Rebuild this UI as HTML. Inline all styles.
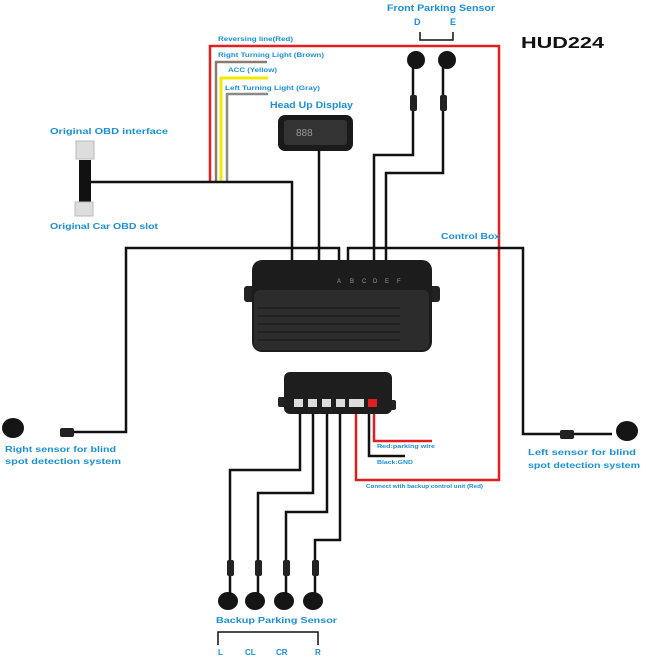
<!DOCTYPE html>
<html><head><meta charset="utf-8"><style>
html,body{margin:0;padding:0;background:#fff}
svg text{font-family:"Liberation Sans",sans-serif;font-weight:bold;fill:#1a8fd8}
svg text.g{fill:#999;font-weight:normal}
svg text.k{fill:#111}
</style></head><body>
<svg width="646" height="663" viewBox="0 0 646 663" xmlns="http://www.w3.org/2000/svg">
<polyline points="210,183 210,46 499,46 499,480 356,480 356,403" fill="none" stroke="#e02020" stroke-width="2.5"/>
<polyline points="216,183 216,62 267,62" fill="none" stroke="#8a7a70" stroke-width="2.5"/>
<polyline points="221,183 221,78 268,78" fill="none" stroke="#f5e800" stroke-width="3"/>
<polyline points="227,183 227,94 268,94" fill="none" stroke="#8a8a8a" stroke-width="2.5"/>
<g fill="none" stroke="#111" stroke-width="2.5">
<polyline points="88,182 292,182 292,262"/>
<line x1="319" y1="150" x2="319" y2="262"/>
<polyline points="413,62 413,155 374,155 374,262"/>
<polyline points="443,62 443,173 386,173 386,262"/>
<polyline points="339,262 339,248 126,248 126,432 60,432"/>
<polyline points="348,262 348,248 523,248 523,434 612,434"/>
<polyline points="300,410 300,470 230,470 230,595"/>
<polyline points="313,410 313,493 258,493 258,595"/>
<polyline points="327,410 327,512 286,512 286,595"/>
<polyline points="340,410 340,540 315,540 315,595"/>
<polyline points="369,410 369,456 405,456"/>
<polyline points="420,32 420,40 453,40 453,32" stroke-width="1.5"/>
<polyline points="218,645 218,632 318,632 318,645" stroke-width="1.5"/>
</g>
<polyline points="374,405 374,441 432,441" fill="none" stroke="#e02020" stroke-width="2.5"/>
<g fill="#222">
<rect x="410" y="95" width="7" height="16" rx="2"/><rect x="440" y="95" width="7" height="16" rx="2"/>
<rect x="60" y="428" width="14" height="9" rx="2"/><rect x="560" y="430" width="14" height="9" rx="2"/>
<rect x="227" y="560" width="7" height="16" rx="2"/><rect x="255" y="560" width="7" height="16" rx="2"/>
<rect x="283" y="560" width="7" height="16" rx="2"/><rect x="312" y="560" width="7" height="16" rx="2"/>
</g>
<g fill="#151515">
<ellipse cx="416" cy="60" rx="9" ry="9"/><ellipse cx="447" cy="60" rx="9" ry="9"/>
<ellipse cx="13" cy="428" rx="11" ry="10"/><ellipse cx="627" cy="431" rx="11" ry="10"/>
<ellipse cx="228" cy="601" rx="10" ry="9"/><ellipse cx="255" cy="601" rx="10" ry="9"/>
<ellipse cx="284" cy="601" rx="10" ry="9"/><ellipse cx="313" cy="601" rx="10" ry="9"/>
</g>
<rect x="76" y="141" width="18" height="18" fill="#ddd" stroke="#bbb"/>
<rect x="79" y="160" width="12" height="42" fill="#111"/>
<rect x="75" y="202" width="18" height="14" fill="#ddd" stroke="#bbb"/>
<rect x="278" y="115" width="75" height="36" rx="7" fill="#1a1a1a"/>
<rect x="284" y="120" width="63" height="25" rx="3" fill="#333"/>
<text x="296" y="136" class="g" font-size="10">888</text>
<rect x="244" y="286" width="12" height="16" rx="3" fill="#222"/>
<rect x="428" y="286" width="12" height="16" rx="3" fill="#222"/>
<rect x="252" y="260" width="180" height="92" rx="10" fill="#1c1c1c"/>
<rect x="254" y="290" width="175" height="60" rx="6" fill="#2c2c2c"/>
<g stroke="#161616" stroke-width="1">
<line x1="258" y1="308" x2="400" y2="308"/><line x1="258" y1="316" x2="400" y2="316"/>
<line x1="258" y1="324" x2="400" y2="324"/><line x1="258" y1="332" x2="400" y2="332"/><line x1="258" y1="340" x2="400" y2="340"/>
</g>
<g font-size="6"><text class="g" x="337" y="283">A</text><text class="g" x="350" y="283">B</text><text class="g" x="362" y="283">C</text><text class="g" x="373" y="283">D</text><text class="g" x="385" y="283">E</text><text class="g" x="397" y="283">F</text></g>
<rect x="278" y="397" width="10" height="10" rx="2" fill="#222"/><rect x="386" y="400" width="10" height="10" rx="2" fill="#222"/>
<rect x="284" y="372" width="108" height="42" rx="6" fill="#1e1e1e"/>
<g fill="#ddd"><rect x="294" y="399" width="9" height="8"/><rect x="308" y="399" width="9" height="8"/><rect x="322" y="399" width="9" height="8"/><rect x="336" y="399" width="9" height="8"/><rect x="349" y="399" width="15" height="8"/></g>
<rect x="368" y="399" width="9" height="8" fill="#e02020"/>
<text x="387" y="11" font-size="9" textLength="108" lengthAdjust="spacingAndGlyphs">Front Parking Sensor</text>
<text x="414" y="25" font-size="9">D</text><text x="450" y="25" font-size="9">E</text>
<text x="521" y="48" font-size="16" class="k" textLength="83" lengthAdjust="spacingAndGlyphs">HUD224</text>
<text x="218" y="41" font-size="6" textLength="75" lengthAdjust="spacingAndGlyphs">Reversing line(Red)</text>
<text x="218" y="57" font-size="6" textLength="106" lengthAdjust="spacingAndGlyphs">Right Turning Light (Brown)</text>
<text x="228" y="72" font-size="6" textLength="49" lengthAdjust="spacingAndGlyphs">ACC (Yellow)</text>
<text x="225" y="90" font-size="6" textLength="95" lengthAdjust="spacingAndGlyphs">Left Turning Light (Gray)</text>
<text x="270" y="108" font-size="9" textLength="83" lengthAdjust="spacingAndGlyphs">Head Up Display</text>
<text x="50" y="134" font-size="8" textLength="118" lengthAdjust="spacingAndGlyphs">Original  OBD interface</text>
<text x="50" y="229" font-size="8" textLength="108" lengthAdjust="spacingAndGlyphs">Original Car OBD slot</text>
<text x="441" y="239" font-size="8" textLength="59" lengthAdjust="spacingAndGlyphs">Control Box</text>
<text x="5" y="452" font-size="8" textLength="111" lengthAdjust="spacingAndGlyphs">Right sensor for blind</text>
<text x="5" y="464" font-size="8" textLength="116" lengthAdjust="spacingAndGlyphs">spot detection system</text>
<text x="528" y="455" font-size="8" textLength="108" lengthAdjust="spacingAndGlyphs">Left sensor for blind</text>
<text x="528" y="468" font-size="8" textLength="112" lengthAdjust="spacingAndGlyphs">spot detection system</text>
<text x="377" y="448" font-size="5.5" textLength="58" lengthAdjust="spacingAndGlyphs">Red:parking wire</text>
<text x="377" y="464" font-size="5.5" textLength="36" lengthAdjust="spacingAndGlyphs">Black:GND</text>
<text x="366" y="488" font-size="5" textLength="117" lengthAdjust="spacingAndGlyphs">Connect with backup control unit (Red)</text>
<text x="216" y="623" font-size="8.5" textLength="121" lengthAdjust="spacingAndGlyphs">Backup Parking Sensor</text>
<text x="218" y="655" font-size="8">L</text><text x="245" y="655" font-size="8">CL</text>
<text x="276" y="655" font-size="8">CR</text><text x="315" y="655" font-size="8">R</text>
</svg>
</body></html>
